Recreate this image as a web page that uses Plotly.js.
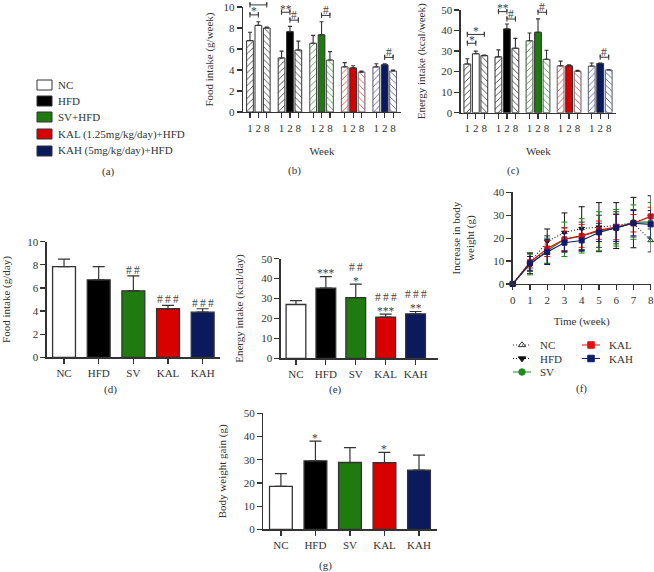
<!DOCTYPE html>
<html>
<head>
<meta charset="utf-8">
<script src="https://cdn.plot.ly/plotly-3.0.1.min.js"></script>
<style>
  html, body { margin: 0; padding: 0; background: #fff; }
  #chart { width: 654px; height: 572px; }
</style>
</head>
<body>
<div id="chart"></div>
<script>
// groups
var groupsShort = ['NC', 'HFD', 'SV', 'KAL', 'KAH'];
var groupsLong = ['NC', 'HFD', 'SV+HFD', 'KAL (1.25mg/kg/day)+HFD', 'KAH (5mg/kg/day)+HFD'];
var weekLabels = ['1', '2', '8'];

// (b) food intake per week, rows are weeks 1, 2, 8
var foodWeek1 = [6.8, 5.15, 6.55, 4.3, 4.3];
var foodWeek2 = [8.25, 7.65, 7.35, 4.2, 4.5];
var foodWeek8 = [8.0, 5.9, 4.95, 3.8, 3.9];
var foodWeek1Err = [0.8, 0.65, 0.75, 0.4, 0.3];
var foodWeek2Err = [0.35, 0.5, 1.25, 0.2, 0.1];
var foodWeek8Err = [0.1, 0.85, 0.8, 0.1, 0.1];

// (c) energy intake per week
var energyWeek1 = [23.7, 27.2, 35, 22.8, 22.7];
var energyWeek2 = [28.7, 40.8, 39.2, 22.8, 24];
var energyWeek8 = [27.8, 31.4, 26, 20.2, 20.8];
var energyWeek1Err = [2.6, 3.4, 3.8, 2.3, 1.5];
var energyWeek2Err = [1.3, 2.4, 6.5, 0.5, 0.2];
var energyWeek8Err = [0.3, 4.8, 4.4, 0.4, 0.1];

// (d) (e) (g)
var foodDay = [7.85, 6.7, 5.75, 4.2, 3.9];
var foodDayErr = [0.65, 1.15, 1.3, 0.3, 0.3];
var foodDayHash = ['', '', '#\u2009#', '#\u2009#\u2009#', '#\u2009#\u2009#'];
var energyDay = [27, 35.2, 30.5, 20.7, 22.3];
var energyDayErr = [2, 5.8, 6.7, 1.5, 1.2];
var energyDayStars = ['', '***', '*', '***', '**'];
var energyDayHash = ['', '', '#\u2009#', '#\u2009#\u2009#', '#\u2009#\u2009#'];
var gain = [18.5, 29.5, 28.8, 28.7, 25.5];
var gainErr = [5.5, 8.5, 6.4, 4.5, 6.5];
var gainStars = ['', '*', '', '*', ''];

// (f) increase in body weight
var weeks = [0, 1, 2, 3, 4, 5, 6, 7, 8];
var bwNC = [0, 9.5, 15, 19.5, 21, 23, 24.5, 26.5, 19];
var bwNCErr = [0, 4, 6, 5, 6, 7, 7, 6, 5];
var bwHFD = [0, 9, 18.5, 22.5, 24.2, 24.8, 25.5, 26.8, 29.5];
var bwHFDErr = [0, 4.5, 5.5, 8.5, 9.5, 10.7, 10, 11, 9];
var bwSV = [0, 8.5, 14.5, 19.5, 21, 23, 24.5, 27, 27];
var bwSVErr = [0, 4.5, 5.5, 7.5, 7.5, 8.5, 8, 7.5, 8.5];
var bwKAL = [0, 9.5, 15.5, 19.5, 21, 23.5, 24.8, 26.5, 29.5];
var bwKALErr = [0, 2.5, 3.5, 5, 5, 4, 5.5, 3.8, 4];
var bwKAH = [0, 9, 14, 18, 19, 22.5, 24.5, 26.5, 26];
var bwKAHErr = [0, 3, 5.5, 4, 4.7, 4, 6, 5.5, 6];

// significance brackets: group, first bar, last bar, height, label
var foodBrackets = [[0, 0, 1, 9.25, '*'], [0, 0, 2, 10.2, '*'], [1, 0, 1, 9.5, '**'], [1, 1, 2, 8.75, '#'], [2, 1, 2, 9.2, '#'], [4, 1, 2, 5.2, '#']];
var energyBrackets = [[0, 0, 1, 33.8, '*'], [0, 0, 2, 38.1, '*'], [1, 0, 1, 49.2, '**'], [1, 1, 2, 45.6, '#'], [2, 1, 2, 48.9, '#'], [4, 1, 2, 27, '#']];

var W = 654, H = 572;
var INK = '#333333';
var FONT = '"Liberation Serif", serif';
var fills = ['#ffffff', '#000000', '#1f7a10', '#d90000', '#0a1a5c'];
var hatch = ['#444444', '#444444', '#4fa544', '#ee5a5c', '#5a65b4'];
var hatchEdge = ['#333333', '#333333', '#444a44', '#6e5a5a', '#55596e'];

function domX(a, b) { return [a / W, b / W]; }
function domY(top, bottom) { return [1 - bottom / H, 1 - top / H]; }

function baseAxis(extra) {
  return Object.assign({
    showgrid: false, zeroline: false, showline: true, linecolor: INK, linewidth: 1.3,
    ticks: 'outside', ticklen: 5, tickwidth: 1.2, tickcolor: INK,
    tickfont: { family: FONT, size: 11, color: INK }
  }, extra);
}
function axisTitle(text, standoff) {
  return { text: text, standoff: standoff, font: { family: FONT, size: 11, color: INK } };
}

var traces = [];
var annotations = [];
var shapes = [];

// lift = pixels from the point up to the middle of the glyph
function note(text, x, y, ax, lift) {
  annotations.push({ text: text, x: x, y: y, xref: 'x' + ax, yref: 'y' + ax, showarrow: false,
    yanchor: 'middle', yshift: lift, align: 'center', borderpad: 0,
    font: { family: FONT, size: 11.5, color: '#444444' } });
}

// panels b and c. Plotly clips lines at the axis range even with cliponaxis off,
// so the brackets go on a hidden y axis (bracketAxis) that reaches higher up the page
function weekPanel(ax, bracketAxis, step, yMax, means, errs, brackets, capH) {
  var pos = function (g, b) { return g * step + b; };
  var tickvals = [], ticktext = [];
  groupsShort.forEach(function (_, g) {
    weekLabels.forEach(function (w, b) { tickvals.push(pos(g, b)); ticktext.push(w); });
  });
  means.forEach(function (m, b) {
    var solid = b === 1;
    traces.push({
      type: 'bar', xaxis: 'x' + ax, yaxis: 'y' + ax, showlegend: false, cliponaxis: false,
      x: groupsShort.map(function (_, g) { return pos(g, b); }),
      y: m, width: 0.8,
      marker: {
        color: solid ? fills : '#ffffff',
        line: { color: solid ? INK : hatchEdge, width: 1 },
        pattern: solid ? undefined : { shape: b === 0 ? '/' : '\\', size: 4.5, solidity: 0.2, fgcolor: hatch, bgcolor: '#ffffff', fillmode: 'replace' }
      },
      error_y: { type: 'data', array: errs[b], arrayminus: groupsShort.map(function () { return 0; }), color: INK, thickness: 1.1, width: 2 }
    });
  });
  brackets.forEach(function (br) {
    var a = pos(br[0], br[1]), c = pos(br[0], br[2]), y = br[3];
    traces.push({
      type: 'scatter', mode: 'lines', xaxis: 'x' + ax, yaxis: bracketAxis, showlegend: false,
      x: [a, a, a, c, c, c], y: [y - capH, y + capH, y, y, y + capH, y - capH],
      line: { color: INK, width: 1, simplify: false }
    });
    var lift = br[4].charAt(0) === '*' ? 3.5 : 5;
    if (y > yMax) lift = 0.5; // bracket above the axis top, keep the star on the page
    note(br[4], (a + c) / 2, y, ax, lift);
  });
  return { tickvals: tickvals, ticktext: ticktext };
}

// panels d, e and g
function groupPanel(ax, values, errs, stars, hashes) {
  traces.push({
    type: 'bar', xaxis: 'x' + ax, yaxis: 'y' + ax, showlegend: false, cliponaxis: false,
    x: groupsShort, y: values, width: 0.66,
    marker: { color: fills, line: { color: INK, width: 1.3 } },
    error_y: { type: 'data', array: errs, arrayminus: errs.map(function () { return 0; }), color: INK, thickness: 1.2, width: 6 }
  });
  groupsShort.forEach(function (g, i) {
    var s = stars ? stars[i] : '', h = hashes ? hashes[i] : '';
    if (s) note(s, g, values[i] + errs[i], ax, 3.5);
    if (h) note(h, g, values[i] + errs[i], ax, s ? 17 : 6);
  });
}

var foodTicks = weekPanel('', 'y8', 3.76, 10,
  [foodWeek1, foodWeek2, foodWeek8], [foodWeek1Err, foodWeek2Err, foodWeek8Err], foodBrackets, 0.25);
var energyTicks = weekPanel('2', 'y9', 3.66, 50,
  [energyWeek1, energyWeek2, energyWeek8], [energyWeek1Err, energyWeek2Err, energyWeek8Err], energyBrackets, 1.25);

groupPanel('3', foodDay, foodDayErr, null, foodDayHash);
groupPanel('4', energyDay, energyDayErr, energyDayStars, energyDayHash);
groupPanel('6', gain, gainErr, gainStars, null);

// panel f
var bwStyles = [
  { name: 'NC', y: bwNC, err: bwNCErr, color: '#333333', dash: '1px,2px', symbol: 'triangle-up-open', col: 0, row: 0 },
  { name: 'HFD', y: bwHFD, err: bwHFDErr, color: '#111111', dash: '1px,2px', symbol: 'triangle-down', col: 0, row: 1 },
  { name: 'SV', y: bwSV, err: bwSVErr, color: '#1f8a20', dash: 'solid', symbol: 'circle', col: 0, row: 2 },
  { name: 'KAL', y: bwKAL, err: bwKALErr, color: '#e01010', dash: 'solid', symbol: 'square', col: 1, row: 0 },
  { name: 'KAH', y: bwKAH, err: bwKAHErr, color: '#101a70', dash: 'solid', symbol: 'square', col: 1, row: 1 }
];
bwStyles.forEach(function (s) {
  traces.push({
    type: 'scatter', mode: 'lines+markers', name: s.name, xaxis: 'x5', yaxis: 'y5', cliponaxis: false,
    showlegend: false, x: weeks, y: s.y,
    line: { color: s.color, width: 1.1, dash: s.dash },
    marker: { color: s.color, size: 5, symbol: s.symbol, line: { color: s.color, width: 1 } },
    error_y: { type: 'data', array: s.err, color: s.color, thickness: 1, width: 3 }
  });
});

// legend of panel f, drawn on its own hidden axes because Plotly's row pitch is too tall here
var keyColumns = [513, 582];
bwStyles.forEach(function (s) {
  var x0 = keyColumns[s.col];
  traces.push({
    type: 'scatter', mode: 'lines', xaxis: 'x7', yaxis: 'y7', showlegend: false, hoverinfo: 'skip',
    x: [x0, x0 + 18], y: [s.row, s.row],
    line: { color: s.color, width: 1.1, dash: s.dash }
  });
  traces.push({
    type: 'scatter', mode: 'markers', xaxis: 'x7', yaxis: 'y7', showlegend: false, hoverinfo: 'skip',
    x: [x0 + 9], y: [s.row],
    marker: { color: s.color, size: 6.5, symbol: s.symbol, line: { color: s.color, width: 1 } }
  });
  annotations.push({ text: s.name, xref: 'x7', yref: 'y7', x: x0 + 25, y: s.row,
    xanchor: 'left', yanchor: 'middle', showarrow: false,
    font: { family: FONT, size: 11, color: INK } });
});

// panel a, the shared colour key
var keyRows = [85, 101, 117, 134, 151];
groupsLong.forEach(function (label, i) {
  shapes.push({ type: 'rect', xref: 'paper', yref: 'paper', x0: 37 / W, x1: 52 / W,
    y0: 1 - (keyRows[i] + 5) / H, y1: 1 - (keyRows[i] - 5) / H,
    fillcolor: fills[i], line: { color: INK, width: 1 } });
  annotations.push({ text: label, xref: 'paper', yref: 'paper', x: 56 / W, y: 1 - keyRows[i] / H,
    xanchor: 'left', yanchor: 'middle', showarrow: false,
    font: { family: FONT, size: 11, color: INK } });
});

// panel letters
[['(a)', 108, 172], ['(b)', 294, 170], ['(c)', 513, 170], ['(d)', 110, 390],
 ['(e)', 335, 390], ['(f)', 581, 388], ['(g)', 325, 565]].forEach(function (c) {
  annotations.push({ text: c[0], xref: 'paper', yref: 'paper', x: c[1] / W, y: 1 - c[2] / H,
    xanchor: 'center', yanchor: 'middle', showarrow: false,
    font: { family: FONT, size: 11, color: INK } });
});

var layout = {
  width: W, height: H, margin: { l: 0, r: 0, t: 0, b: 0 },
  paper_bgcolor: '#ffffff', plot_bgcolor: 'rgba(0,0,0,0)',
  barmode: 'overlay', showlegend: false,
  annotations: annotations, shapes: shapes,

  xaxis: baseAxis({ domain: domX(243, 401), range: [-0.83, 17.98], anchor: 'y', tickmode: 'array', tickvals: foodTicks.tickvals, ticktext: foodTicks.ticktext, ticklabelstandoff: -1.5, title: axisTitle('Week', 14) }),
  yaxis: baseAxis({ domain: domY(7, 112), range: [0, 10], anchor: 'x', tickvals: [0, 2, 4, 6, 8, 10], title: axisTitle('Food intake (g/week)', 7) }),

  xaxis2: baseAxis({ domain: domX(460.7, 616), range: [-0.78, 17.5], anchor: 'y2', tickmode: 'array', tickvals: energyTicks.tickvals, ticktext: energyTicks.ticktext, ticklabelstandoff: -1.5, title: axisTitle('Week', 14) }),
  yaxis2: baseAxis({ domain: domY(10, 112.7), range: [0, 50], anchor: 'x2', tickvals: [0, 10, 20, 30, 40, 50], title: axisTitle('Energy intake (kcal/week)', 13) }),

  xaxis3: baseAxis({ domain: domX(46.7, 220), range: [-0.5, 4.5], anchor: 'y3', type: 'category', categoryarray: groupsShort }),
  yaxis3: baseAxis({ domain: domY(241.7, 357.3), range: [0, 10], anchor: 'x3', tickvals: [0, 2, 4, 6, 8, 10], title: axisTitle('Food intake (g/day)', 15) }),

  xaxis4: baseAxis({ domain: domX(280.7, 438), range: [-0.51, 4.75], anchor: 'y4', type: 'category', categoryarray: groupsShort }),
  yaxis4: baseAxis({ domain: domY(258.7, 358.3), range: [0, 50], anchor: 'x4', tickvals: [0, 10, 20, 30, 40, 50], title: axisTitle('Energy intake (kcal/day)', 15) }),

  xaxis5: baseAxis({ domain: domX(512.7, 650.7), range: [0, 8], anchor: 'y5', dtick: 1, title: axisTitle('Time (week)', 12) }),
  yaxis5: baseAxis({ domain: domY(192.3, 284), range: [0, 40], anchor: 'x5', tickvals: [0, 10, 20, 30, 40], title: axisTitle('Increase in body<br>weight (g)', 16) }),

  xaxis6: baseAxis({ domain: domX(263.3, 437.3), range: [-0.51, 4.53], anchor: 'y6', type: 'category', categoryarray: groupsShort }),
  yaxis6: baseAxis({ domain: domY(413.3, 529.3), range: [0, 50], anchor: 'x6', tickvals: [0, 10, 20, 30, 40, 50], title: axisTitle('Body weight gain (g)', 15) }),

  // hidden axes for the panel f legend: x in page pixels, y in legend rows
  xaxis7: { domain: domX(500, 654), range: [500, 654], anchor: 'y7', visible: false },
  yaxis7: { domain: domY(338.25, 378.75), range: [2.5, -0.5], anchor: 'x7', visible: false },

  // hidden y axes for the brackets of b and c, same scale as y and y2 but up to the page top
  yaxis8: { domain: domY(0, 112), range: [0, 10 * 112 / 105], anchor: 'x', visible: false },
  yaxis9: { domain: domY(0, 112.7), range: [0, 50 * 112.7 / 102.7], anchor: 'x2', visible: false }
};

Plotly.newPlot('chart', traces, layout, { displayModeBar: false, staticPlot: true });
</script>
</body>
</html>
